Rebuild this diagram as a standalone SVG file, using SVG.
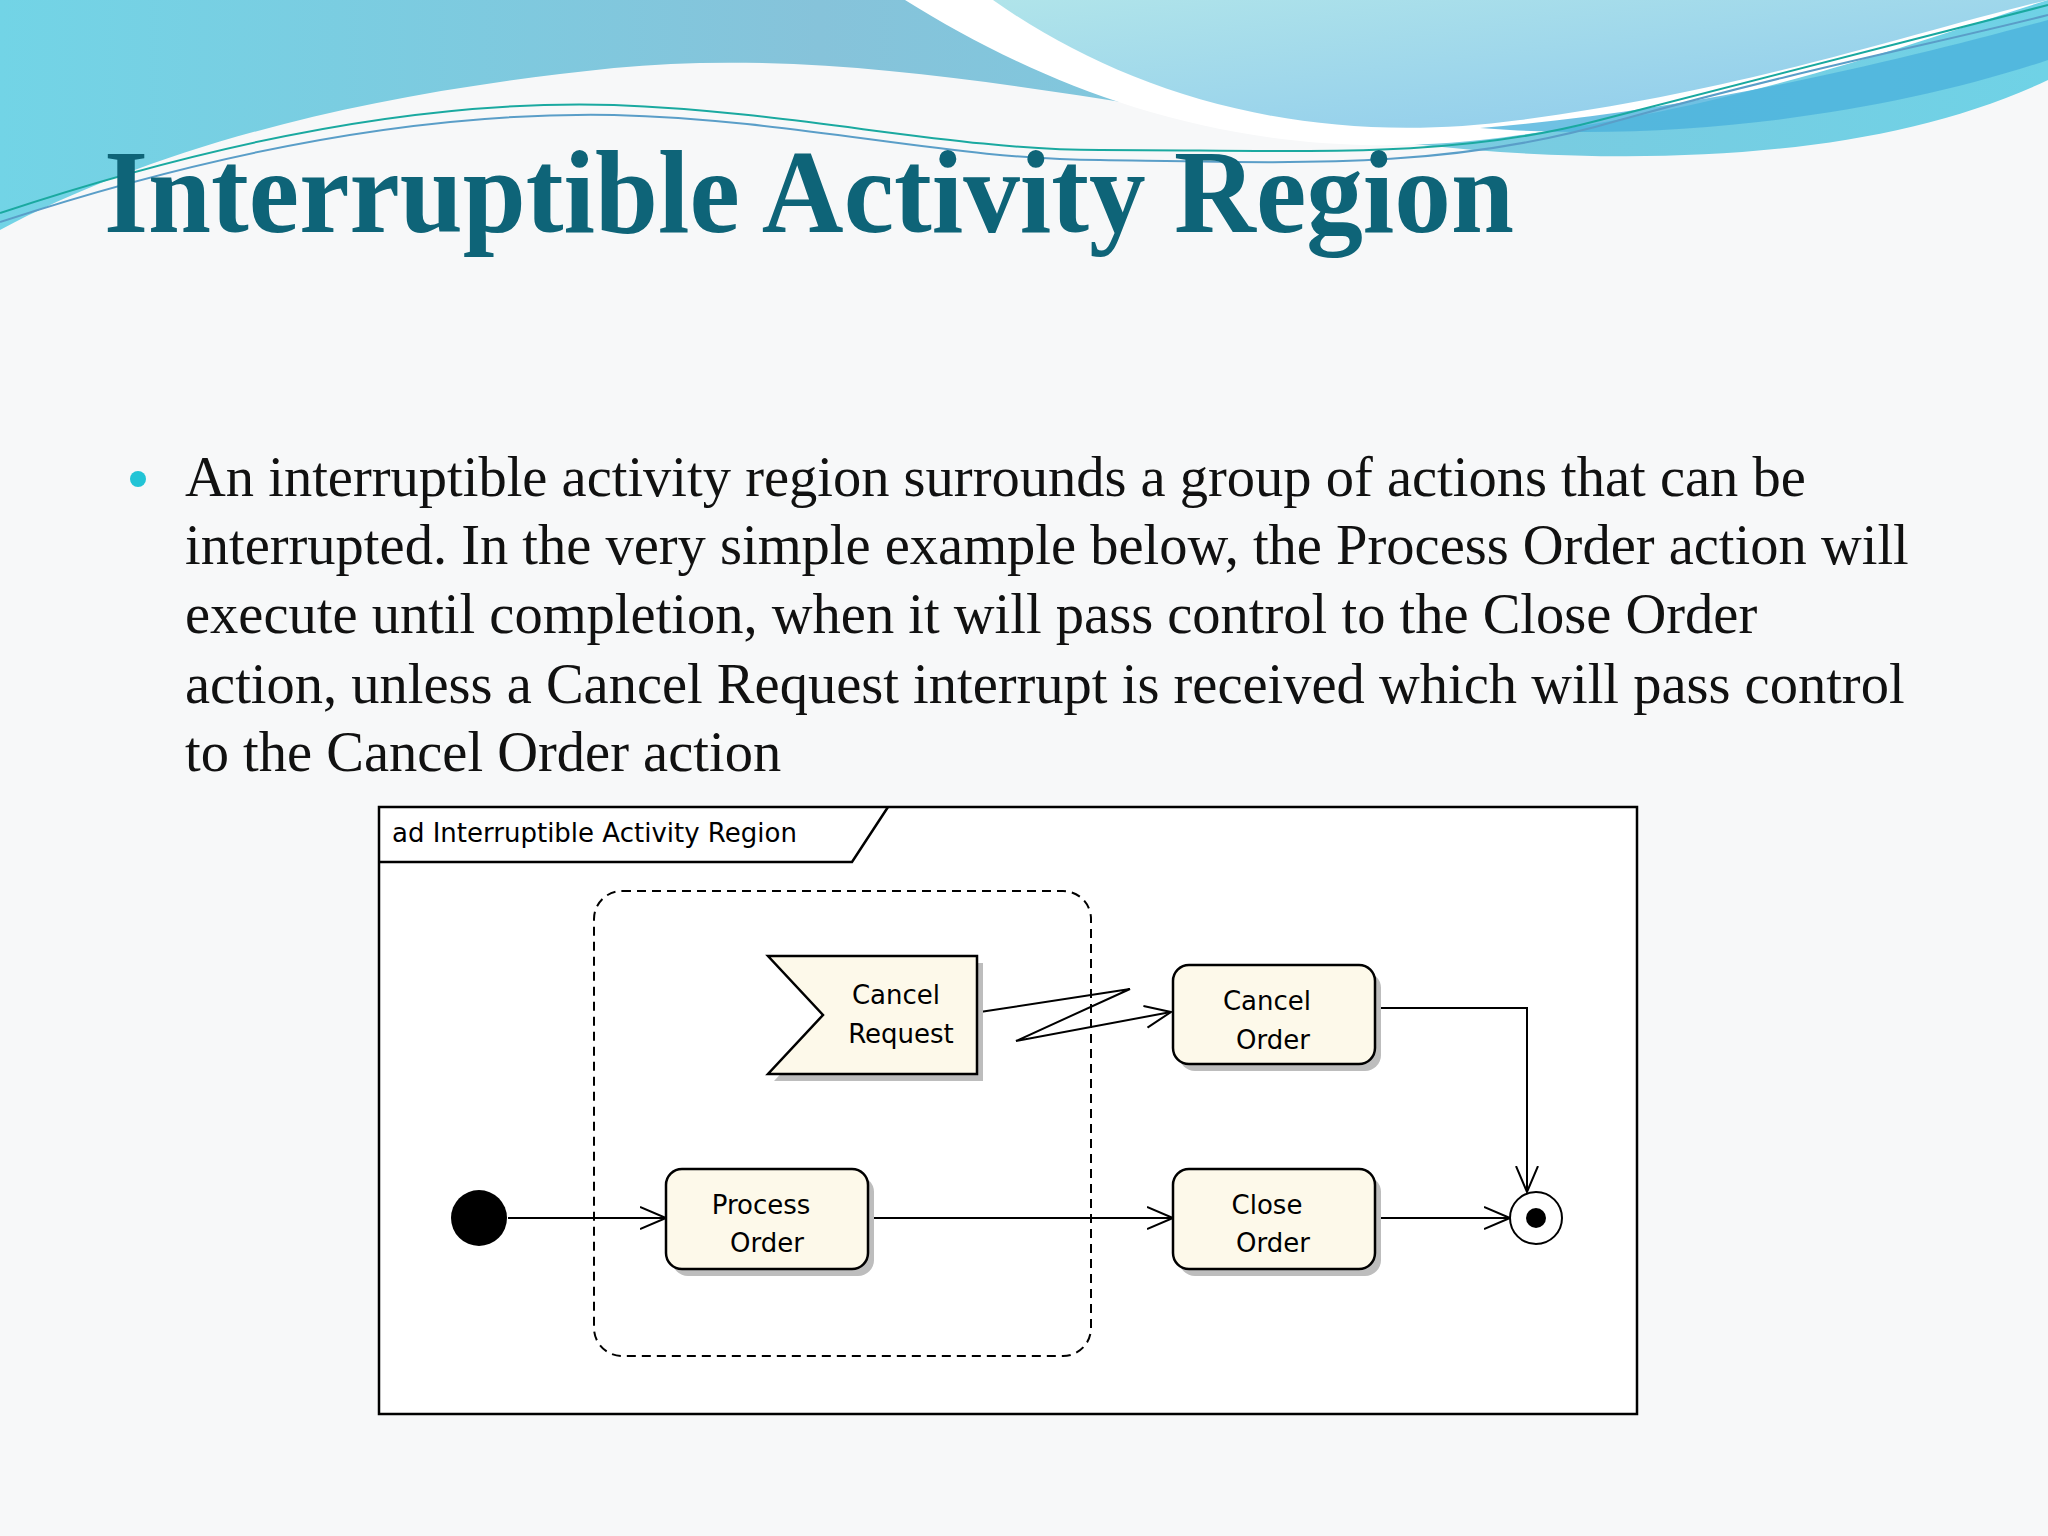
<svg xmlns="http://www.w3.org/2000/svg" width="2048" height="1536" viewBox="0 0 2048 1536">
<defs>
<linearGradient id="bg1" x1="0" y1="0" x2="1" y2="0"><stop offset="0" stop-color="#72d4e6"/><stop offset="0.4" stop-color="#86c3da"/><stop offset="1" stop-color="#6fd2e6"/></linearGradient>
<linearGradient id="bg2" x1="0" y1="0" x2="1" y2="1"><stop offset="0" stop-color="#b0e4ea"/><stop offset="1" stop-color="#8cc9ec"/></linearGradient>
<marker id="open" markerWidth="28" markerHeight="28" refX="26" refY="14" orient="auto" markerUnits="userSpaceOnUse"><path d="M0,3 L26,14 L0,25" fill="none" stroke="#000" stroke-width="2"/></marker>
</defs>
<style>
.node{fill:#fdf9ea;stroke:#000;stroke-width:2.5}
.shadow{fill:#bdbdbd}
.lbl{font-family:"DejaVu Sans",sans-serif;font-size:26px;fill:#000;text-anchor:middle}
.edge{fill:none;stroke:#000;stroke-width:2}
.body{font-family:"Liberation Serif",serif;font-size:56.5px;fill:#111}
</style>
<rect width="2048" height="1536" fill="#f7f8f9"/>
<path d="M0,0 H2048 V80 C1900,150 1700,165 1500,152 C1200,130 900,40 614,68 C350,95 150,150 0,230 Z" fill="url(#bg1)"/>
<path d="M905,0 C1050,90 1250,175 1520,135 C1750,105 1920,40 2048,0 Z" fill="#ffffff"/>
<path d="M993,0 C1120,90 1300,150 1520,120 C1750,90 1920,30 2048,0 Z" fill="url(#bg2)"/>
<path d="M1480,128 C1700,110 1900,60 2048,20 V60 C1900,110 1700,140 1510,130 Z" fill="#4bb2dc" opacity="0.8"/>
<path d="M0,213 C250,130 450,100 614,105 C800,112 950,150 1100,150 C1300,150 1450,160 1600,120 C1800,70 1950,30 2048,5" fill="none" stroke="#1aa9a0" stroke-width="2"/>
<path d="M0,222 C250,140 450,112 614,115 C800,120 950,160 1100,160 C1300,163 1450,170 1620,120 C1800,70 1950,40 2048,15" fill="none" stroke="#5a9ec8" stroke-width="2"/>
<text x="104" y="232" font-family="Liberation Serif,serif" font-weight="bold" font-size="118" fill="#0e6478" textLength="1410" lengthAdjust="spacingAndGlyphs">Interruptible Activity Region</text>
<circle cx="138" cy="479" r="8" fill="#22c4d6"/>
<text class="body" x="185" y="496">An interruptible activity region surrounds a group of actions that can be</text>
<text class="body" x="185" y="564">interrupted. In the very simple example below, the Process Order action will</text>
<text class="body" x="185" y="633">execute until completion, when it will pass control to the Close Order</text>
<text class="body" x="185" y="703">action, unless a Cancel Request interrupt is received which will pass control</text>
<text class="body" x="185" y="771">to the Cancel Order action</text>
<g id="frame">
<rect x="379" y="807" width="1258" height="607" fill="#fff" stroke="#000" stroke-width="2.5"/>
<path d="M379,862 H852 L888,807" fill="none" stroke="#000" stroke-width="2.5"/>
<text x="392" y="842" font-family="DejaVu Sans,sans-serif" font-size="26">ad Interruptible Activity Region</text>
</g>
<g id="region"><rect x="594" y="891" width="497" height="465" rx="28" fill="none" stroke="#000" stroke-width="2" stroke-dasharray="9,6"/></g>
<g id="connectors">
<path class="edge" d="M508,1218 H666" marker-end="url(#open)"/>
<path class="edge" d="M868,1218 H1173" marker-end="url(#open)"/>
<path class="edge" d="M1375,1218 H1510" marker-end="url(#open)"/>
<path class="edge" d="M1375,1008 H1527 V1192" marker-end="url(#open)"/>
<path class="edge" stroke-width="2.5" d="M980,1012 L1130,989 L1016,1041 L1171,1012" marker-end="url(#open)"/>
</g>
<g id="cancel-request">
<path class="shadow" d="M774,963 H983 V1081 H774 L829,1022 Z"/>
<path class="node" d="M768,956 H977 V1074 H768 L823,1015 Z"/>
<text class="lbl" x="896" y="1004">Cancel</text>
<text class="lbl" x="901" y="1043">Request</text>
</g>
<g id="cancel-order">
<rect class="shadow" x="1179" y="972" width="202" height="99" rx="16"/>
<rect class="node" x="1173" y="965" width="202" height="99" rx="16"/>
<text class="lbl" x="1267" y="1010">Cancel</text>
<text class="lbl" x="1273" y="1049">Order</text>
</g>
<g id="process-order">
<rect class="shadow" x="672" y="1176" width="202" height="100" rx="16"/>
<rect class="node" x="666" y="1169" width="202" height="100" rx="16"/>
<text class="lbl" x="761" y="1214">Process</text>
<text class="lbl" x="767" y="1252">Order</text>
</g>
<g id="close-order">
<rect class="shadow" x="1179" y="1176" width="202" height="100" rx="16"/>
<rect class="node" x="1173" y="1169" width="202" height="100" rx="16"/>
<text class="lbl" x="1267" y="1214">Close</text>
<text class="lbl" x="1273" y="1252">Order</text>
</g>
<g id="initial"><circle cx="479" cy="1218" r="28" fill="#000"/></g>
<g id="final"><circle cx="1536" cy="1218" r="26" fill="#fff" stroke="#000" stroke-width="2"/><circle cx="1536" cy="1218" r="10" fill="#000"/></g>
</svg>
